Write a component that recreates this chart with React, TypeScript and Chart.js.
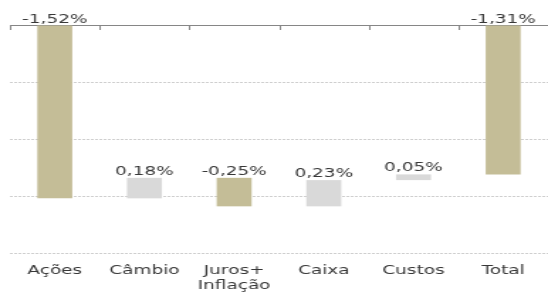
import React, { useEffect, useRef } from 'react';
import { Chart, registerables } from 'chart.js';

Chart.register(...registerables);

// ---- data ----
const categories: (string | string[])[] = ['Ações', 'Câmbio', ['Juros+', 'Inflação'], 'Caixa', 'Custos', 'Total'];
const contributions = [-1.52, 0.18, -0.25, 0.23, 0.05];
const totalValue = -1.31;
const yGridValues = [0, -0.5, -1, -1.5, -2];

const NEG_COLOR = '#C4BD97';
const POS_COLOR = '#D9D9D9';
const TEXT_COLOR = '#383838';
const FONT = 'DejaVu Sans';

// canvas is drawn narrower and stretched horizontally like the reference
const CANVAS_W = 386;
const CSS_W = 548;
const H = 292;

const fmt = (v: number) => (v < 0 ? '-' : '') + Math.abs(v).toFixed(2).replace('.', ',') + '%';

const valueLabels = [...contributions, totalValue].map(fmt);

const labelPlugin = {
  id: 'barLabels',
  afterDatasetsDraw(chart: any) {
    const ctx = chart.ctx;
    const meta = chart.getDatasetMeta(0);
    ctx.save();
    ctx.font = `13px "${FONT}"`;
    ctx.fillStyle = TEXT_COLOR;
    ctx.textAlign = 'center';
    ctx.textBaseline = 'alphabetic';
    meta.data.forEach((el: any, i: number) => {
      const { x, y, base } = el.getProps(['x', 'y', 'base'], true);
      const top = Math.min(y, base);
      ctx.fillText(valueLabels[i], x, top - 3);
    });
    ctx.restore();
  },
};

const topTicksPlugin = {
  id: 'topTicks',
  afterDraw(chart: any) {
    const xs = chart.scales.x;
    const n = xs.ticks.length;
    if (n < 2) return;
    const half = (xs.getPixelForTick(1) - xs.getPixelForTick(0)) / 2;
    const top = chart.chartArea.top;
    const ctx = chart.ctx;
    ctx.save();
    ctx.strokeStyle = '#868686';
    ctx.lineWidth = 1;
    ctx.beginPath();
    for (let i = 0; i <= n; i++) {
      const px = Math.round(xs.getPixelForTick(0) - half + i * 2 * half) + 0.5;
      ctx.moveTo(px, top);
      ctx.lineTo(px, top + 5);
    }
    ctx.stroke();
    ctx.restore();
  },
};

export default function App() {
  const ref = useRef<HTMLCanvasElement>(null);

  useEffect(() => {
    document.body.style.margin = '0';
    const ranges: [number, number][] = [];
    let run = 0;
    contributions.forEach((c) => {
      const start = run;
      run = Math.round((run + c) * 100) / 100;
      ranges.push([start, run]);
    });
    ranges.push([0, totalValue]);
    const colors = [...contributions.map((c) => (c < 0 ? NEG_COLOR : POS_COLOR)), NEG_COLOR];

    const chart = new Chart(ref.current!, {
      type: 'bar',
      data: {
        labels: categories,
        datasets: [
          {
            data: ranges as any,
            backgroundColor: colors,
            borderWidth: 0,
            categoryPercentage: 1,
            barPercentage: 0.39,
          },
        ],
      },
      options: {
        responsive: false,
        animation: false,
        devicePixelRatio: 1,
        layout: { padding: { top: 25, left: 7, right: 0, bottom: -11 } },
        plugins: { legend: { display: false }, tooltip: { enabled: false } },
        scales: {
          x: {
            position: 'bottom',
            grid: { display: false, drawTicks: false },
            border: { display: false },
            ticks: {
              color: TEXT_COLOR,
              font: { family: FONT, size: 13, lineHeight: 1.15 },
              padding: 10,
              maxRotation: 0,
              autoSkip: false,
            },
          },
          x2: {
            type: 'category',
            position: 'top',
            labels: categories as any,
            grid: { display: true, drawOnChartArea: false, drawTicks: false },
            border: { display: true, color: '#868686', width: 1 },
            ticks: { display: false },
          },
          y: {
            min: -2,
            max: 0,
            afterBuildTicks: (s: any) => {
              s.ticks = yGridValues.map((v) => ({ value: v }));
            },
            ticks: { display: false },
            grid: {
              drawTicks: false,
              color: (c: any) => (c.tick && c.tick.value === 0 ? 'rgba(0,0,0,0)' : '#cfcfcf'),
              lineWidth: 1,
            },
            border: { display: false, dash: [2, 1] },
          },
        },
      },
      plugins: [labelPlugin, topTicksPlugin],
    });
    return () => chart.destroy();
  }, []);

  return (
    <div style={{ position: 'absolute', left: 0, top: 0, width: CSS_W, height: H, background: '#fff' }}>
      <canvas
        ref={ref}
        width={CANVAS_W}
        height={H}
        style={{ width: CSS_W + 'px', height: H + 'px', display: 'block' }}
      />
    </div>
  );
}
